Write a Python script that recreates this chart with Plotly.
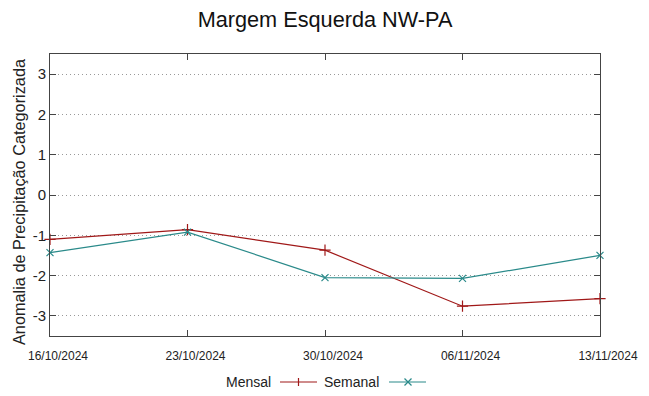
import plotly.graph_objects as go

dates = ["2024-10-16", "2024-10-23", "2024-10-30", "2024-11-06", "2024-11-13"]
tick_labels = ["16/10/2024", "23/10/2024", "30/10/2024", "06/11/2024", "13/11/2024"]
y_tick_vals = [-3, -2, -1, 0, 1, 2, 3]
y_tick_labels = ["-3", "-2", "-1", "0", "1", "2", "3"]
mensal = [-1.10, -0.86, -1.37, -2.76, -2.57]
semanal = [-1.43, -0.92, -2.05, -2.07, -1.50]

c_mensal = "#a01818"
c_semanal = "#2a8a8a"

fig = go.Figure()
fig.add_trace(go.Scatter(x=dates, y=mensal, mode="lines+markers", name="Mensal",
                         line=dict(color=c_mensal, width=1.2),
                         marker=dict(symbol="cross-thin", size=8, line=dict(color=c_mensal, width=1.2)),
                         showlegend=False, cliponaxis=False))
fig.add_trace(go.Scatter(x=dates, y=semanal, mode="lines+markers", name="Semanal",
                         line=dict(color=c_semanal, width=1.2),
                         marker=dict(symbol="x-thin", size=7, line=dict(color=c_semanal, width=1.2)),
                         showlegend=False, cliponaxis=False))

# page has an 8px body margin; work in page pixel coords and convert
OFF = 8
PW, PH = 649, 396            # page size
W, H = PW - OFF, PH - OFF    # figure size
PL, PR, PT, PB = 50, 600, 54, 336   # plot box in page coords
L, T = PL - OFF, PT - OFF
R, B = PW - PR, PH - PB
pw, ph = PR - PL, PB - PT


def px(x):
    return (x - PL) / pw


def py(y):
    return (PB - y) / ph


ly = py(382)
font_leg = dict(family="Liberation Sans", size=14, color="#222")
fig.add_annotation(x=px(273), y=ly, xref="paper", yref="paper", text="Mensal",
                   showarrow=False, xanchor="right", yanchor="middle", font=font_leg)
fig.add_annotation(x=px(381), y=ly, xref="paper", yref="paper", text="Semanal",
                   showarrow=False, xanchor="right", yanchor="middle", font=font_leg)
fig.add_shape(type="line", xref="paper", yref="paper", x0=px(280), x1=px(317), y0=ly, y1=ly,
              line=dict(color=c_mensal, width=1.2))
fig.add_shape(type="line", xref="paper", yref="paper", x0=px(389), x1=px(426), y0=ly, y1=ly,
              line=dict(color=c_semanal, width=1.2))
# '+' sample marker
fig.add_shape(type="line", xref="paper", yref="paper", x0=px(298.5), x1=px(298.5), y0=py(378), y1=py(386),
              line=dict(color=c_mensal, width=1.2))
# 'x' sample marker
fig.add_shape(type="line", xref="paper", yref="paper", x0=px(404.5), x1=px(411.5), y0=py(378.5), y1=py(385.5),
              line=dict(color=c_semanal, width=1.2))
fig.add_shape(type="line", xref="paper", yref="paper", x0=px(404.5), x1=px(411.5), y0=py(385.5), y1=py(378.5),
              line=dict(color=c_semanal, width=1.2))

# y-axis title
fig.add_annotation(x=px(19), y=py(202), xref="paper", yref="paper",
                   text="Anomalia de Precipitação Categorizada", textangle=-90,
                   showarrow=False, xanchor="center", yanchor="middle",
                   font=dict(family="Liberation Sans", size=16.3, color="#222"))

fig.update_layout(
    width=W, height=H,
    margin=dict(l=L, r=R, t=T, b=B, autoexpand=False),
    paper_bgcolor="white", plot_bgcolor="white",
    title=dict(text="Margem Esquerda NW-PA", x=(325 - OFF) / W, xanchor="center",
               y=1 - (19 - OFF) / H, yanchor="middle",
               font=dict(family="Liberation Sans", size=21.7, color="#111"), automargin=False),
    xaxis=dict(
        range=["2024-10-16", "2024-11-13"],
        tickvals=dates, ticktext=tick_labels,
        ticks="inside", ticklen=6, tickcolor="#444", mirror="allticks",
        showline=True, linecolor="#444", linewidth=1,
        showgrid=False, zeroline=False, automargin=False,
        ticklabelshift=8, ticklabelstandoff=9,
        tickfont=dict(family="Liberation Sans Narrow, Liberation Sans", size=12, color="#222"),
    ),
    yaxis=dict(
        range=[-3.5, 3.5],
        tickvals=y_tick_vals, ticktext=y_tick_labels,
        ticks="inside", ticklen=6, tickcolor="#444", mirror="allticks",
        showline=True, linecolor="#444", linewidth=1,
        showgrid=True, gridcolor="#999999", griddash="1px,3px", gridwidth=1,
        zeroline=False, automargin=False,
        tickfont=dict(family="Liberation Sans", size=15, color="#222"),
    ),
)

fig.write_html("out.html")
